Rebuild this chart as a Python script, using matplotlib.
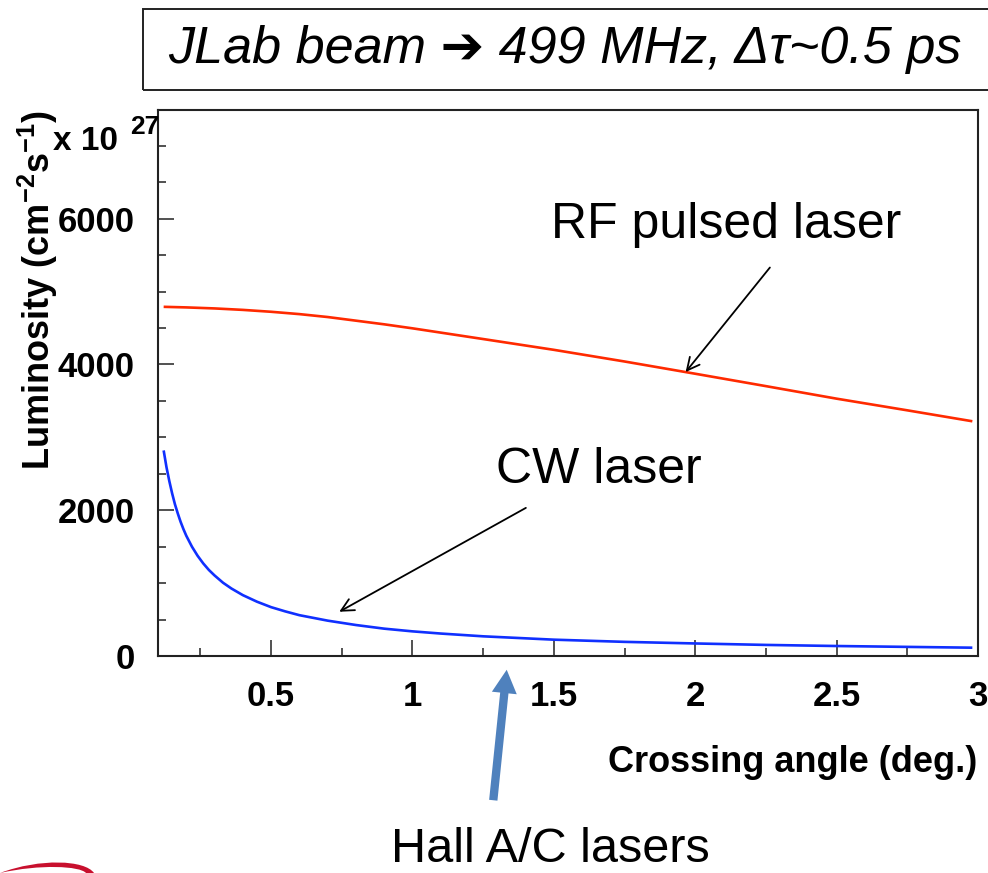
import matplotlib
matplotlib.use("Agg")
import matplotlib.pyplot as plt
from matplotlib.patches import Rectangle, FancyArrowPatch, PathPatch
from matplotlib.path import Path
from matplotlib.ticker import MultipleLocator, FormatStrFormatter

plt.rcParams['font.family'] = ['Liberation Sans', 'DejaVu Sans']
plt.rcParams['mathtext.fontset'] = 'custom'
plt.rcParams['mathtext.rm'] = 'Liberation Sans'
plt.rcParams['mathtext.bf'] = 'Liberation Sans:bold'
plt.rcParams['mathtext.it'] = 'Liberation Sans:italic'

# Luminosity vs crossing angle (units of 1e27 cm^-2 s^-1)
theta_rf = [0.12, 0.2, 0.3, 0.4, 0.5, 0.6, 0.7, 0.8, 0.9, 1.0, 1.25, 1.5, 1.75,
            2.0, 2.25, 2.5, 2.75, 2.98]
lum_rf = [4790, 4782, 4768, 4748, 4722, 4690, 4650, 4600, 4550, 4495, 4348, 4200, 4040,
          3872, 3702, 3530, 3370, 3220]

theta_cw = [0.12, 0.13, 0.14, 0.15, 0.16, 0.17, 0.18, 0.19, 0.2, 0.22, 0.24, 0.26, 0.28,
            0.3, 0.33, 0.36, 0.4, 0.45, 0.5, 0.55, 0.6, 0.7, 0.8, 0.9, 1.0, 1.1, 1.25,
            1.5, 1.75, 2.0, 2.25, 2.5, 2.75, 2.98]
lum_cw = [2820, 2590, 2400, 2230, 2080, 1955, 1840, 1740, 1650, 1500, 1375, 1270, 1180,
          1105, 1005, 925, 835, 745, 670, 612, 560, 485, 425, 375, 338, 308, 270,
          224, 194, 172, 152, 137, 125, 114]

x_ticks = [0.5, 1, 1.5, 2, 2.5, 3]
y_ticks = [0, 2000, 4000, 6000]

W, H = 988, 873
fig = plt.figure(figsize=(W / 100, H / 100), dpi=100)


def fx(px):
    return px / W


def fy(py):
    return 1 - py / H


ax = fig.add_axes([fx(158), fy(656), fx(978) - fx(158), fy(110) - fy(656)])
ax.plot(theta_rf, lum_rf, color='#ff2a00', lw=1.9, solid_capstyle='butt')
ax.plot(theta_cw, lum_cw, color='#1030ff', lw=1.9, solid_capstyle='butt')

ax.set_xlim(0.1, 3.0)
ax.set_ylim(0, 7490)
ax.xaxis.set_major_locator(MultipleLocator(0.5))
ax.xaxis.set_minor_locator(MultipleLocator(0.25))
ax.yaxis.set_major_locator(MultipleLocator(2000))
ax.yaxis.set_minor_locator(MultipleLocator(500))
ax.xaxis.set_major_formatter(FormatStrFormatter('%g'))
ax.set_xticks(x_ticks)
ax.set_yticks(y_ticks)
ax.tick_params(which='both', direction='in', top=False, right=False, width=1.1, color='#222222')
ax.tick_params(which='major', length=11.5)
ax.tick_params(which='minor', length=5.8)
ax.tick_params(axis='x', which='major', pad=17, labelsize=25)
ax.tick_params(axis='y', which='major', pad=17, labelsize=25)
for lab in ax.get_xticklabels() + ax.get_yticklabels():
    lab.set_fontweight('bold')
for sp in ax.spines.values():
    sp.set_linewidth(1.5)
    sp.set_color('#222222')

# axis titles
fig.text(fx(977), fy(763), 'Crossing angle (deg.)', ha='right', va='center',
         fontsize=26, fontweight='bold')
fig.text(fx(38), fy(110), r'Luminosity (cm$^{\mathbf{-2}}$s$^{\mathbf{-1}}$)', rotation=90,
         ha='center', va='top', fontsize=26, fontweight='bold')
fig.text(fx(53), fy(150), 'x 10', ha='left', va='baseline', fontsize=24, fontweight='bold')
fig.text(fx(130), fy(134), '27', ha='left', va='baseline', fontsize=19, fontweight='bold')

# curve labels and arrows
ax.text(2.108, 5740, 'RF pulsed laser', ha='center', va='baseline', fontsize=36)
ax.annotate('', xy=(1.966, 3895), xytext=(2.264, 5329),
            arrowprops=dict(arrowstyle='->,head_length=0.9,head_width=0.45', lw=1.3, color='black',
                            shrinkA=0, shrinkB=0))
ax.text(1.658, 2370, 'CW laser', ha='center', va='baseline', fontsize=36)
ax.annotate('', xy=(0.741, 607), xytext=(1.401, 2032),
            arrowprops=dict(arrowstyle='->,head_length=0.9,head_width=0.45', lw=1.3, color='black',
                            shrinkA=0, shrinkB=0))

# beam box at top
fig.patches.append(Rectangle((fx(143), fy(90)), 1.0, fy(9) - fy(90), transform=fig.transFigure,
                             fill=False, edgecolor='#222222', lw=1.4))
fig.text(fx(168), fy(50), 'JLab beam \u2794 499 MHz, \u0394\u03c4~0.5 ps', ha='left', va='center',
         fontsize=37.5, style='italic')

# Hall A/C laser pointer
fig.patches.append(FancyArrowPatch((fx(493), fy(803)), (fx(507), fy(667)), transform=fig.transFigure,
                                   arrowstyle='simple,head_length=1.4,head_width=1.5,tail_width=0.5',
                                   mutation_scale=12, color='#4f81bd', lw=0))
fig.text(fx(550), fy(872), 'Hall A/C lasers', ha='center', va='bottom', fontsize=35)

# partial lab logo swoosh in the lower-left corner
verts = [(fx(0), fy(873)), (fx(40), fy(858)), (fx(85), fy(860)), (fx(94), fy(873)),
         (fx(86), fy(873)), (fx(80), fy(866)), (fx(40), fy(864)), (fx(0), fy(873))]
codes = [Path.MOVETO, Path.CURVE4, Path.CURVE4, Path.CURVE4,
         Path.LINETO, Path.CURVE4, Path.CURVE4, Path.CURVE4]
fig.patches.append(PathPatch(Path(verts, codes), transform=fig.transFigure,
                             facecolor='#c8102e', edgecolor='none'))

fig.savefig('out.png', dpi=100)
